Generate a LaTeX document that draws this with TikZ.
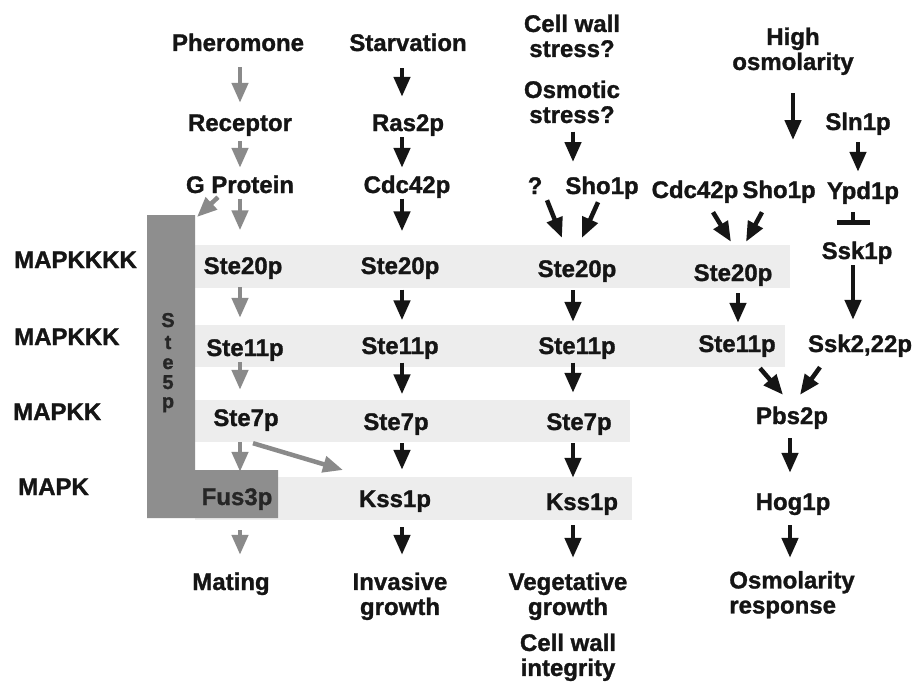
\documentclass[tikz,border=0pt]{standalone}
\usepackage{fontspec}
\setmainfont{Liberation Sans}[BoldFeatures={FakeBold=1.2}]
\usetikzlibrary{arrows.meta}
\definecolor{bandgray}{HTML}{EDEDED}
\definecolor{scaf}{HTML}{8E8E8E}
\definecolor{garrow}{HTML}{8A8A8A}
\definecolor{ink}{HTML}{151515}
\definecolor{scaftext}{HTML}{262626}
\begin{document}
\begin{tikzpicture}[x=1pt,y=-1pt,
  lbl/.style={font=\fontsize{24}{25}\selectfont\bfseries, text=ink, inner sep=1pt, align=center, execute at begin node=\strut},
  side/.style={lbl, anchor=west},
  letter/.style={font=\fontsize{20}{22}\selectfont\bfseries, text=scaftext, inner sep=0pt, anchor=base},
  arr/.style={line width=4.5pt, draw=ink, -{Triangle[length=20pt,width=16pt]}},
  garr/.style={arr, draw=garrow},
  inh/.style={line width=4.5pt, draw=ink, -{Bar[width=33pt,line width=4.5pt]}},
  band/.style={fill=bandgray, draw=none}
]
\useasboundingbox (0,0) rectangle (918,685);
\fill[white] (0,0) rectangle (918,685);

% bands
\fill[band] (195,245) rectangle (790,288);
\fill[band] (195,325) rectangle (785,367);
\fill[band] (195,400) rectangle (630,442);
\fill[band] (195,477) rectangle (632,520);

% Ste5p scaffold
\fill[scaf] (147,215) -- (195,215) -- (195,470) -- (278,470) -- (278,518) -- (147,518) -- cycle;
\node[letter] (ste5s) at (168,327) {S};
\node[letter] (ste5t) at (168,349) {t};
\node[letter] (ste5e) at (168,369) {e};
\node[letter] (ste5f) at (168,389) {5};
\node[letter] (ste5p) at (168,408) {p};
\coordinate (sbar) at (197,217);

% level labels
\node[side] (l1) at (13,263) {MAPKKKK};
\node[side] (l2) at (13,340) {MAPKKK};
\node[side] (l3) at (12,415) {MAPKK};
\node[side] (l4) at (17,490) {MAPK};

% column coordinates for vertical arrows
\coordinate (c1) at (240,0);
\coordinate (c2) at (402,0);
\coordinate (c3) at (573,0);
\coordinate (c4) at (738,0);
\coordinate (c4b) at (790,0);
\coordinate (c5) at (853,0);
\coordinate (c5a) at (858,0);

% column 1: mating
\node[lbl] (phe) at (238,46) {Pheromone};
\node[lbl] (rec) at (240,126) {Receptor};
\node[lbl] (gp) at (240,188) {G Protein};
\node[lbl] (s20a) at (243,269) {Ste20p};
\node[lbl] (s11a) at (245,351) {Ste11p};
\node[lbl] (s7a) at (246,421) {Ste7p};
\node[lbl, text=scaftext] (fus) at (237,500) {Fus3p};
\node[lbl] (mat) at (231,585) {Mating};
\coordinate (kt) at (343,470);

% column 2: invasive growth
\node[lbl] (starv) at (408,46) {Starvation};
\node[lbl] (ras) at (408,126) {Ras2p};
\node[lbl] (cdc) at (407,188) {Cdc42p};
\node[lbl] (s20b) at (400,269) {Ste20p};
\node[lbl] (s11b) at (400,349) {Ste11p};
\node[lbl] (s7b) at (396,425) {Ste7p};
\node[lbl] (kss1b) at (395,502) {Kss1p};
\node[lbl] (inv) at (400,597.5) {Invasive\\growth\strut};

% column 3: vegetative growth
\node[lbl] (cw) at (572,39.5) {Cell wall\\stress?\strut};
\node[lbl] (osm) at (572,105.5) {Osmotic\\stress?\strut};
\coordinate (osmend) at (573,162);
\node[lbl] (q) at (535,189) {?};
\node[lbl] (sho3) at (602,189) {Sho1p};
\node[lbl] (s20c) at (577,272) {Ste20p};
\node[lbl] (s11c) at (577,349) {Ste11p};
\node[lbl] (s7c) at (579,425) {Ste7p};
\node[lbl] (kss1c) at (582,505) {Kss1p};
\node[lbl] (veg) at (568,597.5) {Vegetative\\growth\strut};
\node[lbl] (cwi) at (568,658.5) {Cell wall\\integrity\strut};

% column 4: osmolarity
\node[lbl] (high) at (793,52.5) {High\\osmolarity\strut};
\coordinate (hend) at (793,140);
\node[lbl] (cdc4) at (695,193) {Cdc42p};
\node[lbl] (sho4) at (779,193) {Sho1p};
\node[lbl] (s20d) at (733,276) {Ste20p};
\node[lbl] (s11d) at (737,347) {Ste11p};
\node[lbl] (pbs) at (792,419) {Pbs2p};
\node[lbl] (hog) at (793,505) {Hog1p};
\node[lbl, align=left] (osr) at (792,596) {Osmolarity\\response\strut};

% column 5
\node[lbl] (sln) at (858,125) {Sln1p};
\node[lbl] (ypd) at (863,194) {Ypd1p};
\node[lbl] (ssk1) at (857,254) {Ssk1p};
\node[lbl] (ssk2) at (860,347) {Ssk2,22p};

% ---- arrows column 1 (gray)
\draw[garr, shorten <=7.5pt, shorten >=9.5pt] (phe.south -| c1) -- (rec.north -| c1);
\draw[garr, shorten <=1.5pt, shorten >=6.5pt] (rec.south -| c1) -- (gp.north -| c1);
\draw[garr, shorten <=-3pt, shorten >=25pt] (gp.south -| c1) -- (s20a.north -| c1);
\draw[garr, shorten <=4.5pt, shorten >=19.5pt] (s20a.south -| c1) -- (s11a.north -| c1);
\draw[garr, shorten <=-2.5pt, shorten >=17.5pt] (s11a.south -| c1) -- (s7a.north -| c1);
\draw[garr, shorten <=7.5pt, shorten >=14.5pt] (s7a.south -| c1) -- (fus.north -| c1);
\draw[garr, shorten <=16.5pt, shorten >=16.5pt] (fus.south -| c1) -- (mat.north -| c1);
\draw[garr] ([xshift=-22pt,yshift=4.5pt]gp.south) -- (sbar);
\draw[garr] ([xshift=7pt,yshift=-8.5pt]s7a.south) -- (kt);

% ---- arrows column 2
\draw[arr, shorten <=8.5pt, shorten >=15.5pt] (starv.south -| c2) -- (ras.north -| c2);
\draw[arr, shorten <=-2.5pt, shorten >=6.5pt] (ras.south -| c2) -- (cdc.north -| c2);
\draw[arr, shorten <=-3pt, shorten >=24pt] (cdc.south -| c2) -- (s20b.north -| c2);
\draw[arr, shorten <=7pt, shorten >=15pt] (s20b.south -| c2) -- (s11b.north -| c2);
\draw[arr, shorten <=0pt, shorten >=17pt] (s11b.south -| c2) -- (s7b.north -| c2);
\draw[arr, shorten <=4.5pt, shorten >=18.5pt] (s7b.south -| c2) -- (kss1b.north -| c2);
\draw[arr, shorten <=11.5pt, shorten >=16.5pt] (kss1b.south -| c2) -- (inv.north -| c2);

% ---- arrows column 3
\draw[arr] (osm.south -| c3) -- (osmend);
\draw[arr] ([xshift=12pt,yshift=2.5pt]q.south) -- ([xshift=-15pt,yshift=20.5pt]s20c.north);
\draw[arr] ([xshift=-4pt,yshift=0.5pt]sho3.south) -- ([xshift=5pt,yshift=20.5pt]s20c.north);
\draw[arr, shorten <=4.5pt, shorten >=13.5pt] (s20c.south -| c3) -- (s11c.north -| c3);
\draw[arr, shorten <=0pt, shorten >=18.5pt] (s11c.south -| c3) -- (s7c.north -| c3);
\draw[arr, shorten <=4.5pt, shorten >=13.5pt] (s7c.south -| c3) -- (kss1c.north -| c3);
\draw[arr, shorten <=6.5pt, shorten >=13.5pt] (kss1c.south -| c3) -- (veg.north -| c3);

% ---- arrows column 4
\draw[arr, shorten <=14.5pt] (high.south) -- (hend);
\draw[arr] ([xshift=18pt,yshift=-5.5pt]cdc4.south) -- ([xshift=-2pt,yshift=20.5pt]s20d.north);
\draw[arr] ([xshift=-17pt,yshift=-5.5pt]sho4.south) -- ([xshift=13pt,yshift=20.5pt]s20d.north);
\draw[arr, shorten <=3.5pt, shorten >=10.5pt] (s20d.south -| c4) -- (s11d.north -| c4);
\draw[arr] ([xshift=23pt,yshift=-7.5pt]s11d.south) -- ([xshift=-9pt,yshift=10.5pt]pbs.north);
\draw[arr] ([xshift=-40pt,yshift=-6.5pt]ssk2.south) -- ([xshift=8pt,yshift=10.5pt]pbs.north);
\draw[arr, shorten <=5.5pt, shorten >=18.5pt] (pbs.south -| c4b) -- (hog.north -| c4b);
\draw[arr, shorten <=6.5pt, shorten >=12pt] (hog.south -| c4b) -- (osr.north -| c4b);

% ---- arrows column 5
\draw[arr, shorten <=3.5pt, shorten >=8.5pt] (sln.south -| c5a) -- (ypd.north -| c5a);
\draw[inh, shorten <=4.5pt, shorten >=15.5pt] (ypd.south -| c5) -- (ssk1.north -| c5);
\draw[arr, shorten <=-2.5pt, shorten >=13.5pt] (ssk1.south -| c5) -- (ssk2.north -| c5);
\end{tikzpicture}
\end{document}
